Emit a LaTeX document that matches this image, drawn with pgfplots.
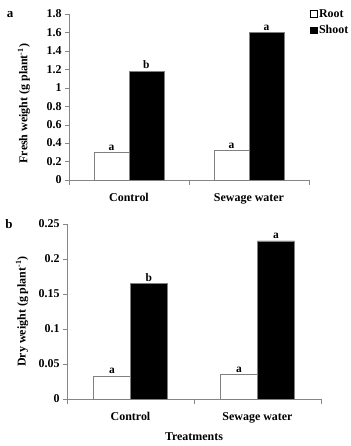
\documentclass[border=0pt]{standalone}
\usepackage{fontspec}
\setmainfont{Liberation Serif}
\usepackage{pgfplots}
\pgfplotsset{compat=1.18}
\definecolor{axgray}{HTML}{868686}
\definecolor{bargray}{HTML}{808080}
\pgfplotsset{
  mybase/.style={
    scale only axis,
    axis x line=bottom, axis y line=left,
    axis line style={axgray, -},
    xmin=-0.5, xmax=1.5,
    xtick={0,1}, xticklabels={Control, Sewage water},
    minor xtick={-0.5,0.5,1.5},
    major x tick style={draw=none},
    minor x tick style={axgray},
    minor tick length=5bp,
    major tick length=4bp,
    tick align=outside,
    ytick style={axgray},
    tick label style={font=\fontsize{12}{14}\selectfont\bfseries},
    /pgf/number format/assume math mode=true,
    /pgf/number format/fixed,
    scaled y ticks=false,
    xticklabel style={yshift=-6bp},
    ybar=0pt, bar width=0.29,
    nodes near coords, point meta=explicit symbolic,
    every node near coord/.append style={font=\fontsize{11.5}{13}\selectfont\bfseries, inner sep=2bp},
    clip=false,
  }
}
\begin{document}
\begin{tikzpicture}
\useasboundingbox (0,0) rectangle (351bp,446bp);
\begin{axis}[mybase,
  at={(69bp,266bp)}, anchor=south west,
  width=240bp, height=166bp,
  ymin=0, ymax=1.8,
  ytick={0,0.2,0.4,0.6,0.8,1,1.2,1.4,1.6,1.8},
  ylabel={Fresh weight (g plant\textsuperscript{-1})},
  every axis y label/.style={at={(axis description cs:-0.1875,0.46)}, rotate=90, anchor=center, font=\fontsize{12}{14}\selectfont\bfseries},
  legend style={at={(axis description cs:1,1)}, anchor=north west, draw=none, fill=none,
    font=\fontsize{12}{14}\selectfont\bfseries, row sep=3bp, inner sep=0pt, xshift=1bp, yshift=7bp,
    /tikz/every even column/.append style={column sep=1bp}},
  legend cell align=left,
]
\addplot[draw=bargray, fill=white,
  legend image code/.code={\draw[draw=black, fill=white, line width=0.4pt] (0bp,-3bp) rectangle (6.5bp,3.5bp);}]
  coordinates {(0,0.30)[a] (1,0.32)[a]};
\addlegendentry{Root}
\addplot[draw=bargray, fill=black,
  legend image code/.code={\draw[draw=black, fill=black] (0bp,-3bp) rectangle (6.5bp,3.5bp);}]
  coordinates {(0,1.18)[b] (1,1.60)[a]};
\addlegendentry{Shoot}
\end{axis}
\begin{axis}[mybase,
  at={(67bp,47bp)}, anchor=south west,
  width=254bp, height=175bp,
  ymin=0, ymax=0.25,
  ytick={0,0.05,0.1,0.15,0.2,0.25},
  yticklabel style={/pgf/number format/precision=2},
  ylabel={Dry weight (g plant\textsuperscript{-1})},
  every axis y label/.style={at={(axis description cs:-0.177,0.5)}, rotate=90, anchor=center, font=\fontsize{12}{14}\selectfont\bfseries},
  xlabel={Treatments},
  every axis x label/.style={at={(axis description cs:0.5,-0.217)}, anchor=center, font=\fontsize{12}{14}\selectfont\bfseries},
]
\addplot[draw=bargray, fill=white]
  coordinates {(0,0.033)[a] (1,0.035)[a]};
\addplot[draw=bargray, fill=black]
  coordinates {(0,0.165)[b] (1,0.226)[a]};
\end{axis}
\node[font=\fontsize{13}{15}\selectfont\bfseries] at (10bp,431bp) {a};
\node[font=\fontsize{13}{15}\selectfont\bfseries] at (9bp,222bp) {b};
\end{tikzpicture}
\end{document}
